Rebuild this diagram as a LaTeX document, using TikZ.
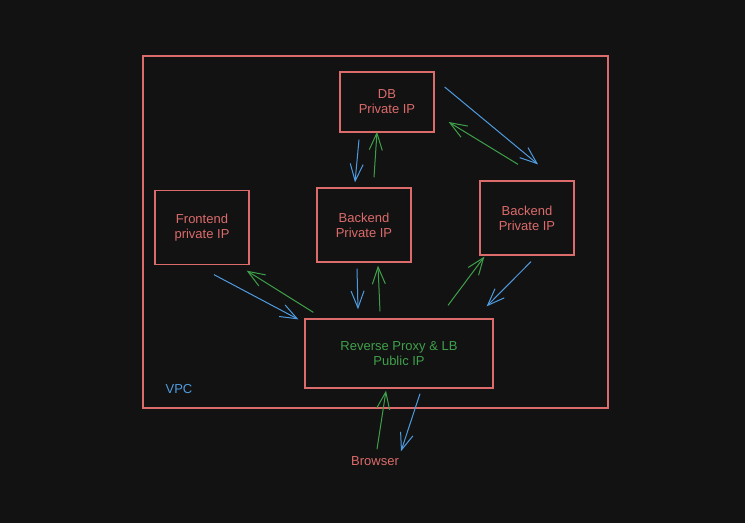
\documentclass[tikz,border=0pt]{standalone}
\usepackage{fontspec}
\setmainfont{Liberation Sans}
\usetikzlibrary{arrows.meta}
\definecolor{bgdark}{HTML}{121212}
\definecolor{boxred}{HTML}{DC6B6B}
\definecolor{lineblue}{HTML}{4F9BE0}
\definecolor{linegreen}{HTML}{3FA04B}
\tikzset{
	server/.style={draw=boxred, line width=1.3pt, minimum width=94pt, minimum height=74pt, inner sep=0pt, text=boxred, align=center, font=\fontsize{13}{15}\selectfont},
	req/.style={draw=lineblue, line width=1pt, -{Straight Barb[length=17pt,width=13pt]}},
	resp/.style={req, draw=linegreen},
}

\begin{document}
\begin{tikzpicture}[x=1pt, y=-1pt]
	\fill[bgdark] (0,0) rectangle (745,523);
	\useasboundingbox (0,0) rectangle (745,523);
	\node[server, minimum width=465pt, minimum height=352pt] (vpc) at (375.5,232) {};
	\node[text=lineblue, font=\fontsize{13}{15}\selectfont] (vpclabel) at (179,389) {VPC};
	\node[server, minimum height=60pt] (db) at (387,102) {DB\\Private IP};
	\node[server] (frontend) at (202,227.5) {Frontend\\private IP};
	\node[server] (backend) at (364,225) {Backend\\Private IP};
	\node[server] (backendb) at (527,218) {Backend\\Private IP};
	\node[server, minimum width=188pt, minimum height=69pt, text=linegreen] (proxy) at (399,353.5) {Reverse Proxy \& LB\\Public IP};
	\node[text=boxred, inner sep=0pt, font=\fontsize{13}{15}\selectfont] (browser) at (375,461) {Browser};

	\draw[req] ([shift={(10,-15)}]db.east) -- ([shift={(11,-16)}]backendb.north);
	\draw[resp] ([shift={(-9,-16)}]backendb.north) -- ([shift={(14,20)}]db.east);
	\draw[req] ([shift={(-28,7)}]db.south) -- ([shift={(-9,-5)}]backend.north);
	\draw[resp] ([shift={(10,-10)}]backend.north) -- ([shift={(-10,-1)}]db.south);
	\draw[req] ([shift={(12,9.5)}]frontend.south) -- ([shift={(-6,1)}]proxy.north west);
	\draw[resp] ([shift={(9,-6)}]proxy.north west) -- ([shift={(-3,5.5)}]frontend.south east);
	\draw[req] ([shift={(-7,6)}]backend.south) -- ([shift={(-41,-9)}]proxy.north);
	\draw[resp] ([shift={(-19,-7)}]proxy.north) -- ([shift={(14,3)}]backend.south);
	\draw[resp] ([shift={(49,-13)}]proxy.north) -- ([shift={(5,1)}]backendb.south west);
	\draw[req] ([shift={(4,6)}]backendb.south) -- ([shift={(-7,-12)}]proxy.north east);
	\draw[resp] ([shift={(2,-7)}]browser.north) -- ([shift={(-13,2)}]proxy.south);
	\draw[req] ([shift={(21,5)}]proxy.south) -- ([shift={(26,-5)}]browser.north);
\end{tikzpicture}
\end{document}
